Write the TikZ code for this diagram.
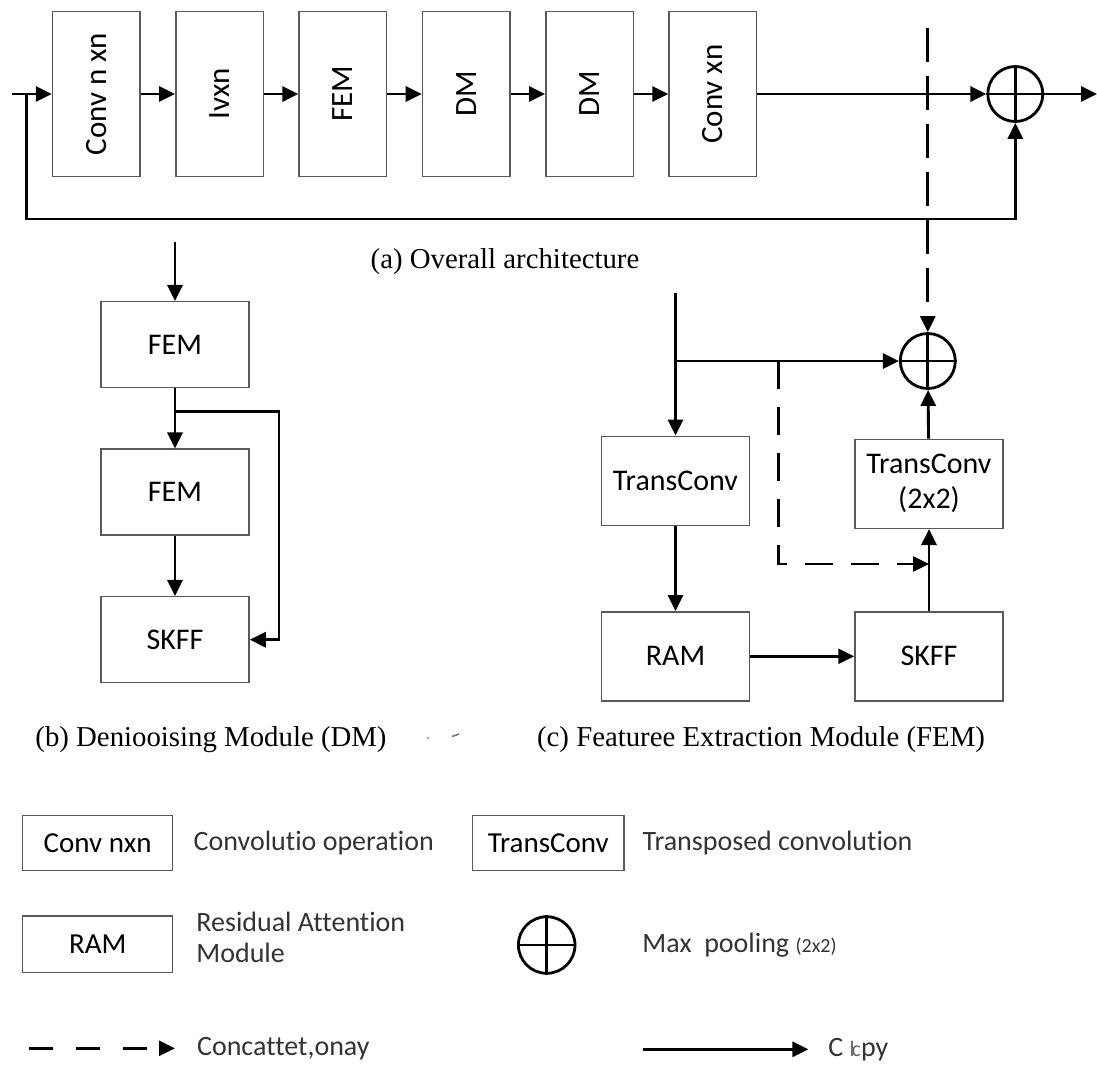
\documentclass[tikz,border=0pt]{standalone}
\usepackage{fontspec}
\setmainfont{Liberation Serif}
\setsansfont[Ligatures=NoCommon]{Carlito}
\usetikzlibrary{arrows.meta,positioning}
\colorlet{boxgray}{black!65}
\colorlet{descgray}{black!80}

\tikzset{
  blk/.style={draw=boxgray, line width=0.75pt, inner sep=0pt, align=center,
    font=\sffamily\fontsize{15}{17.5}\selectfont},
  tbox/.style={blk, minimum width=43.75pt, minimum height=82.5pt,
    font=\sffamily\fontsize{15.5}{18}\selectfont},
  dbox/.style={blk, minimum width=74pt, minimum height=43pt},
  fbox/.style={blk, minimum width=74pt, minimum height=44.5pt},
  lbox/.style={blk, minimum width=75pt, minimum height=27.5pt,
    font=\sffamily\fontsize{14.5}{16}\selectfont},
  oplus/.style={circle, draw, line width=1.4pt, minimum size=27.5pt, inner sep=0pt},
  link/.style={line width=1.45pt},
  flow/.style={link, -{Triangle[length=8pt,width=7.5pt]}},
  cat/.style={flow, dash pattern=on 14pt off 9pt},
  capt/.style={inner sep=0pt, font=\rmfamily\fontsize{14.4}{17}\selectfont},
  desc/.style={anchor=west, inner sep=0pt, align=left, text=descgray,
    font=\sffamily\fontsize{14}{15.8}\selectfont},
}

\begin{document}
\begin{tikzpicture}[x=0.5pt,y=0.5pt]
\useasboundingbox (0,0) rectangle (1097,-1066);

% (a) overall architecture
\coordinate (in) at (11.7,-94);
\coordinate (fb) at (26.7,-94);
\coordinate (fbl) at (26.7,-219);
\coordinate (out) at (1097,-94);
\foreach \lbl [count=\i] in {Conv n xn,Ivxn,FEM,DM,DM,Conv xn}
  \node[tbox] (t\i) at ({96.3+123.3*(\i-1)},-94) {\rotatebox{90}{\lbl}};
\node[oplus] (sum) at (1015.3,-94) {};

\draw[flow] (in) -- (t1);
\foreach \i [count=\j from 2] in {1,...,5}
  \draw[flow] (t\i) -- (t\j);
\draw[flow] (t6) -- (sum);
\draw[flow] (sum) -- (out);
\draw[flow] (fb) -- (fbl) -| (sum);
\draw[link] (sum.north) -- (sum.south) (sum.west) -- (sum.east);

\node[capt] (capa) at (505,-262) {(a) Overall architecture};

% (b) DM
\coordinate (bin) at (175,-242);
\node[dbox] (b1) at (175,-344.7) {FEM};
\node[dbox, below=30pt of b1] (b2) {FEM};
\node[dbox, below=30pt of b2] (b3) {SKFF};
\coordinate (bj) at (175,-411.7);
\coordinate (br) at (279,-411.7);

\draw[flow] (bin) -- (b1);
\draw[flow] (b1) -- (b2);
\draw[flow] (b2) -- (b3);
\draw[flow] (bj) -- (br) |- (b3);

\node[capt] (capb) at (211,-740) {(b) Deniooising Module (DM)};

% (c) FEM
\node[fbox] (tc) at (675.5,-480.8) {TransConv};
\node[fbox, below=42.5pt of tc] (ram) {RAM};
\node[fbox, right=52pt of ram] (sk) {SKFF};
\node[fbox, above=41pt of sk] (tc2) {TransConv\\(2x2)};
\node[oplus] (pc) at (927.8,-361) {};
\coordinate (cin) at (675.5,-293.3);
\coordinate (cj) at (675.5,-361);
\coordinate (cd) at (778.3,-361);
\coordinate (cdb) at (778.3,-564);
\coordinate (dtop) at (927.8,-28);

\draw[flow] (cin) -- (tc);
\draw[flow] (cj) -- (pc);
\draw[flow] (tc) -- (ram);
\draw[flow] (ram) -- (sk);
\draw[flow] (sk) -- (tc2);
\draw[flow] (tc2) -- (pc);
\draw[link] (pc.north) -- (pc.south) (pc.west) -- (pc.east);
\draw[cat] (cd) -- (cdb) -- (cdb -| sk);
\draw[cat, dash pattern=on 17pt off 7pt] (dtop) -- (pc);

\node[capt] (capc) at (761,-740) {(c) Featuree Extraction Module (FEM)};

% specks
\fill[black!45] (428,-738) circle (1.2);
\draw[black!55, line width=0.8pt] (452,-736.5) -- (459,-734);

% legend
\node[lbox] (lg1) at (97.7,-843.2) {Conv nxn};
\node[desc] (d1) at (193.3,-843.2) {Convolutio operation};
\node[lbox, minimum width=75.75pt] (lg2) at (548.3,-843.2) {TransConv};
\node[desc] (d2) at (642.3,-843.2) {Transposed convolution};
\node[lbox, minimum height=28.35pt] (lg3) at (97.7,-944.3) {RAM};
\node[desc] (d3) at (196,-937.5) {Residual Attention\\Module};
\node[oplus, minimum size=28.3pt] (lg4) at (546.7,-945) {};
\draw[link] (lg4.north) -- (lg4.south) (lg4.west) -- (lg4.east);
\node[desc] (d4) at (642,-945) {Max\ \ pooling {\fontsize{10}{12}\selectfont(2x2)}};

\coordinate (ca1) at (29.3,-1048.3);
\coordinate (ca2) at (175,-1048.3);
\draw[cat, dash pattern=on 12pt off 11.5pt] (ca1) -- (ca2);
\node[desc] (d5) at (196.7,-1048.3) {Concattet,onay};
\coordinate (cp1) at (643.3,-1049.3);
\coordinate (cp2) at (808.3,-1049.3);
\draw[flow] (cp1) -- (cp2);
\node[desc] (d6) at (828,-1049.3) {C {\color{black!60}\fontsize{11}{12}\selectfont l\kern-1.5pt c}py};
\end{tikzpicture}
\end{document}
